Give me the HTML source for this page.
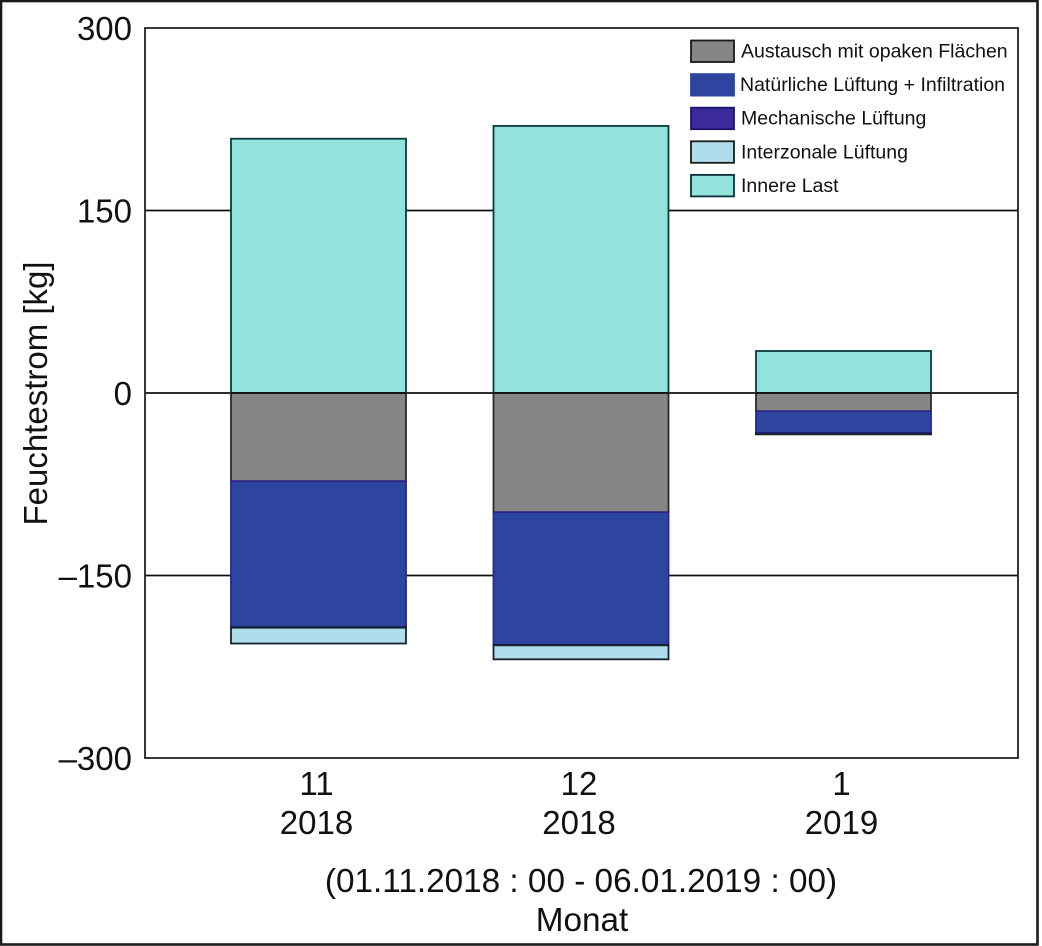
<!DOCTYPE html>
<html lang="de">
<head>
<meta charset="utf-8">
<title>Feuchtestrom</title>
<style>
html,body{margin:0;padding:0;background:#fff;}
svg{display:block;}
text{font-family:"Liberation Sans",Arial,sans-serif;fill:#111111;}
</style>
</head>
<body>
<svg id="chart" xmlns="http://www.w3.org/2000/svg" width="1042" height="946" viewBox="0 0 1042 946"></svg>
<script>
const months = ['11', '12', '1'];
const years = ['2018', '2018', '2019'];
const seriesNames = ['Austausch mit opaken Flächen', 'Natürliche Lüftung + Infiltration', 'Mechanische Lüftung', 'Interzonale Lüftung', 'Innere Last'];
const opaque = [-72.5, -98, -15];
const naturalVent = [-120, -109, -18];
const mechanicalVent = [-0.4, -0.4, -0.8];
const interzonal = [-13, -11.5, -0.2];
const internalLoad = [209, 219.5, 34.5];
const yTicks = [300, 150, 0, -150, -300];
const yTitle = 'Feuchtestrom [kg]';
const xTitle = 'Monat';
const xSubtitle = '(01.11.2018 : 00 - 06.01.2019 : 00)';

const NS = 'http://www.w3.org/2000/svg';
const svg = document.getElementById('chart');
const plot = {left: 145, right: 1018, top: 28, bottom: 758};
const yMin = -300, yMax = 300;
const seriesValues = [opaque, naturalVent, mechanicalVent, interzonal, internalLoad];
const fills = ['#868686', '#2e45a0', '#3a2a9a', '#b0dcec', '#93e2dc'];
const strokes = ['#2a2a2a', '#2c2490', '#1c1470', '#14242c', '#0a3a40'];
const legendStrokes = ['#1a1a1a', '#2e45a0', '#1c1470', '#1a1a1a', '#0a3035'];

function y(v) { return plot.top + (yMax - v) / (yMax - yMin) * (plot.bottom - plot.top); }
function xCenter(i) { return 318.5 + i * 262.5; }
const barW = 175;

function add(tag, attrs, parent) {
  const el = document.createElementNS(NS, tag);
  for (const k in attrs) el.setAttribute(k, attrs[k]);
  (parent || svg).appendChild(el);
  return el;
}
function label(str, attrs) {
  const t = add('text', attrs);
  t.textContent = str;
  return t;
}

// outer frame
const frame = add('rect', {x: 1, y: 1, width: 1036.5, height: 943.5, fill: 'none', stroke: '#1a1a1a', 'stroke-width': 2.6});



// gridlines
yTicks.forEach(function (t) {
  if (t === yMax || t === yMin) return;
  const g = add('line', {x1: plot.left, x2: plot.right, y1: y(t), y2: y(t), stroke: '#111111', 'stroke-width': 1.8});
  
  
});

// stacked bars
months.forEach(function (m, i) {
  let neg = 0;
  const order = [0, 1, 2, 3];
  const x0 = xCenter(i) - barW / 2;
  const pos = internalLoad[i];
  const top = add('rect', {x: x0, y: y(pos), width: barW, height: y(0) - y(pos), fill: fills[4], stroke: strokes[4], 'stroke-width': 1.8});
  
  
  order.forEach(function (s) {
    const v = seriesValues[s][i];
    const start = neg;
    neg += v;
    const r = add('rect', {x: x0, y: y(start), width: barW, height: y(neg) - y(start), fill: fills[s], stroke: strokes[s], 'stroke-width': 1.8});
    
    
  });
  const zero = add('line', {x1: x0, x2: x0 + barW, y1: y(0), y2: y(0), stroke: '#111111', 'stroke-width': 1.8});
  
  
});

// plot border
const border = add('rect', {x: plot.left, y: plot.top, width: plot.right - plot.left, height: plot.bottom - plot.top, fill: 'none', stroke: '#222222', 'stroke-width': 1.8});



// y tick labels
yTicks.forEach(function (t) {
  const str = t < 0 ? '\u2013' + Math.abs(t) : String(t);
  const el = label(str, {x: 132, y: y(t) + 12, 'text-anchor': 'end', 'font-size': 33});
  
  
});

// x tick labels
months.forEach(function (m, i) {
  const a = label(m, {x: xCenter(i) - 2, y: 795, 'text-anchor': 'middle', 'font-size': 33});
  
  
  const b = label(years[i], {x: xCenter(i) - 2, y: 834, 'text-anchor': 'middle', 'font-size': 33});
  
  
});

// axis titles
const yt = label(yTitle, {x: 0, y: 0, 'text-anchor': 'middle', 'font-size': 33, transform: 'translate(47 393.5) rotate(-90)'});


const xs = label(xSubtitle, {x: 581, y: 892, 'text-anchor': 'middle', 'font-size': 33.3});


const xt = label(xTitle, {x: 582, y: 931, 'text-anchor': 'middle', 'font-size': 33.3});



// legend
const legendTextX = [741, 740, 741, 741, 741];
const legendFont = 19.5;
seriesNames.forEach(function (n, i) {
  const ly = 40.5 + i * 33.6;
  const sw = add('rect', {x: 691, y: ly, width: 43, height: 21.5, fill: fills[i], stroke: legendStrokes[i], 'stroke-width': 1.8});
  
  
  const tx = label(n, {x: legendTextX[i], y: ly + 17, 'font-size': legendFont});
  
  
});
</script>
</body>
</html>
